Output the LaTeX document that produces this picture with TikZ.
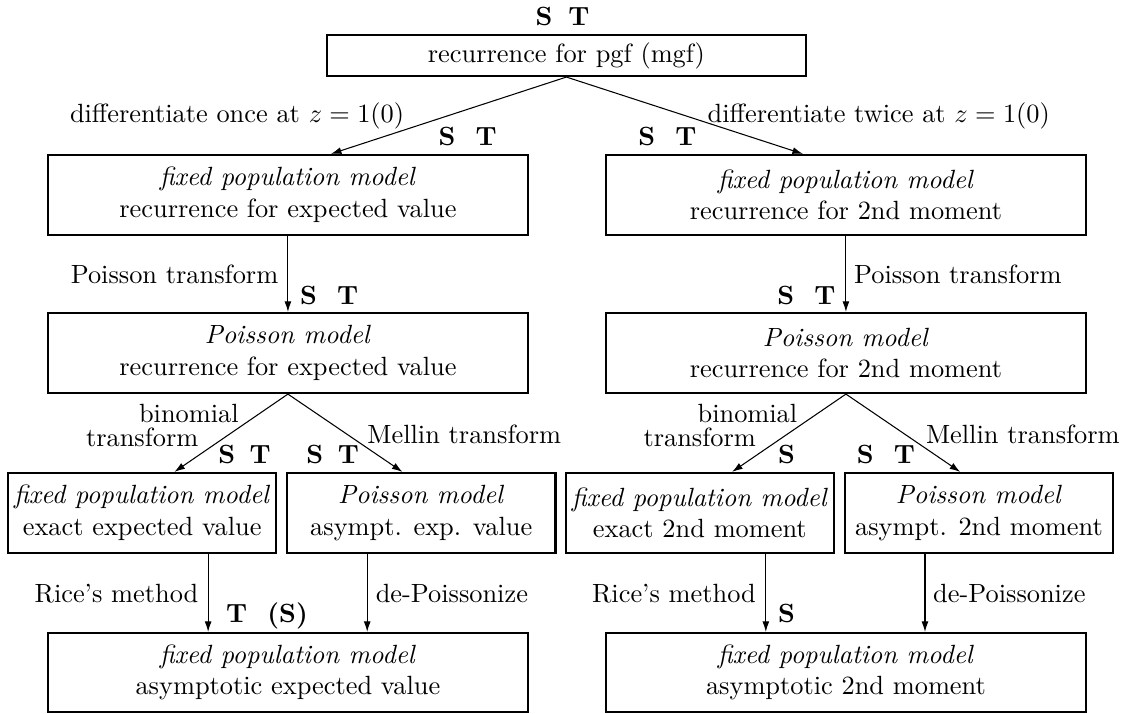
\documentclass[tikz,border=0pt]{standalone}
\usepackage{amsmath}
\usetikzlibrary{arrows.meta}

\begin{document}
\begin{tikzpicture}[line width=0.4pt,>={Latex[length=4pt,width=2.6pt]},
  caja/.style={draw,line width=0.8pt,align=center,inner sep=0pt,minimum width=6.4cm,minimum height=1.067cm},
  cajita/.style={caja,minimum width=3.58cm},
  etiq/.style={inner sep=0pt},
  marca/.style={font=\bfseries,anchor=base,inner sep=0pt}]
  \useasboundingbox (0,0) rectangle (15.04,9.507);
  % cajas
  \node[caja,minimum width=6.39cm,minimum height=0.547cm] (pgf) at (7.552,8.767) {recurrence for pgf (mgf)};
  \node[caja] (fixE) at (3.839,6.907) {\textit{fixed population model}\\recurrence for expected value};
  \node[caja] (fix2) at (11.279,6.907) {\textit{fixed population model}\\recurrence for 2nd moment};
  \node[caja] (poiE) at (3.839,4.80) {\textit{Poisson model}\\recurrence for expected value};
  \node[caja] (poi2) at (11.279,4.80) {\textit{Poisson model}\\recurrence for 2nd moment};
  \node[cajita] (exE) at (1.895,2.667) {\textit{fixed population model}\\exact expected value};
  \node[cajita] (asyE) at (5.616,2.667) {\textit{Poisson model}\\asympt. exp. value};
  \node[cajita] (ex2) at (9.331,2.667) {\textit{fixed population model}\\exact 2nd moment};
  \node[cajita] (asy2) at (13.053,2.667) {\textit{Poisson model}\\asympt. 2nd moment};
  \node[caja,minimum height=1.053cm] (finE) at (3.839,0.54) {\textit{fixed population model}\\asymptotic expected value};
  \node[caja,minimum height=1.053cm] (fin2) at (11.279,0.54) {\textit{fixed population model}\\asymptotic 2nd moment};
  % flechas
  \draw[->] (pgf.south) -- ([xshift=0.573cm]fixE.north);
  \draw[->] (pgf.south) -- ([xshift=-0.573cm]fix2.north);
  \draw[->] (fixE.south) -- (poiE.north); \draw[->] (fix2.south) -- (poi2.north);
  \draw[->] (poiE.south) -- ([xshift=0.43cm]exE.north); \draw[->] (poiE.south) -- ([xshift=-0.25cm]asyE.north);
  \draw[->] (poi2.south) -- ([xshift=0.43cm]ex2.north); \draw[->] (poi2.south) -- ([xshift=-0.25cm]asy2.north);
  \draw[->] ([xshift=0.88cm]exE.south) -- ([xshift=0.88cm]exE.south |- finE.north);
  \draw[->] ([xshift=-0.72cm]asyE.south) -- ([xshift=-0.72cm]asyE.south |- finE.north);
  \draw[->] ([xshift=0.88cm]ex2.south) -- ([xshift=0.88cm]ex2.south |- fin2.north);
  \draw[->] ([xshift=-0.72cm]asy2.south) -- ([xshift=-0.72cm]asy2.south |- fin2.north);
  % etiquetas de las flechas
  \node[etiq,anchor=base east] (difE) at (5.396,7.88) {differentiate once at $z=1(0)$};
  \node[etiq,anchor=base west] (dif2) at (9.429,7.88) {differentiate twice at $z=1(0)$};
  \node[etiq,anchor=base east] (ptE) at (3.717,5.733) {Poisson transform};
  \node[etiq,anchor=base west] (pt2) at (11.381,5.733) {Poisson transform};
  \node[etiq,anchor=base east] (biE) at (3.189,3.867) {binomial}; \node[etiq,anchor=base east] (btE) at (2.652,3.547) {transform};
  \node[etiq,anchor=base east] (bi2) at (10.637,3.867) {binomial}; \node[etiq,anchor=base east] (bt2) at (10.085,3.547) {transform};
  \node[etiq,anchor=base west] (meE) at (4.892,3.60) {Mellin transform};
  \node[etiq,anchor=base west] (me2) at (12.34,3.60) {Mellin transform};
  \node[etiq,anchor=base east] (riE) at (2.652,1.48) {Rice's method};
  \node[etiq,anchor=base east] (ri2) at (10.085,1.48) {Rice's method};
  \node[etiq,anchor=base west] (dpE) at (5.003,1.48) {de-Poissonize};
  \node[etiq,anchor=base west] (dp2) at (12.436,1.48) {de-Poissonize};
  % marcas S y T
  \node[marca] (st0) at (7.50,9.173) {S\hspace{6pt}T};
  \node[marca] (st1) at (6.235,7.573) {S~~T}; \node[marca] (st2) at (8.899,7.573) {S~~T};
  \node[marca] (st3) at (4.388,5.453) {S~~T}; \node[marca] (st4) at (10.753,5.453) {S~~T};
  \node[marca] (st5) at (3.261,3.333) {S\hspace{5.5pt}T}; \node[marca] (st6) at (4.436,3.333) {S\hspace{5.5pt}T};
  \node[marca] (st7) at (10.488,3.333) {S}; \node[marca] (st8) at (11.813,3.333) {S~~T};
  \node[marca] (st9) at (3.56,1.213) {T~~(S)}; \node[marca] (st10) at (10.488,1.213) {S};
\end{tikzpicture}
\end{document}
